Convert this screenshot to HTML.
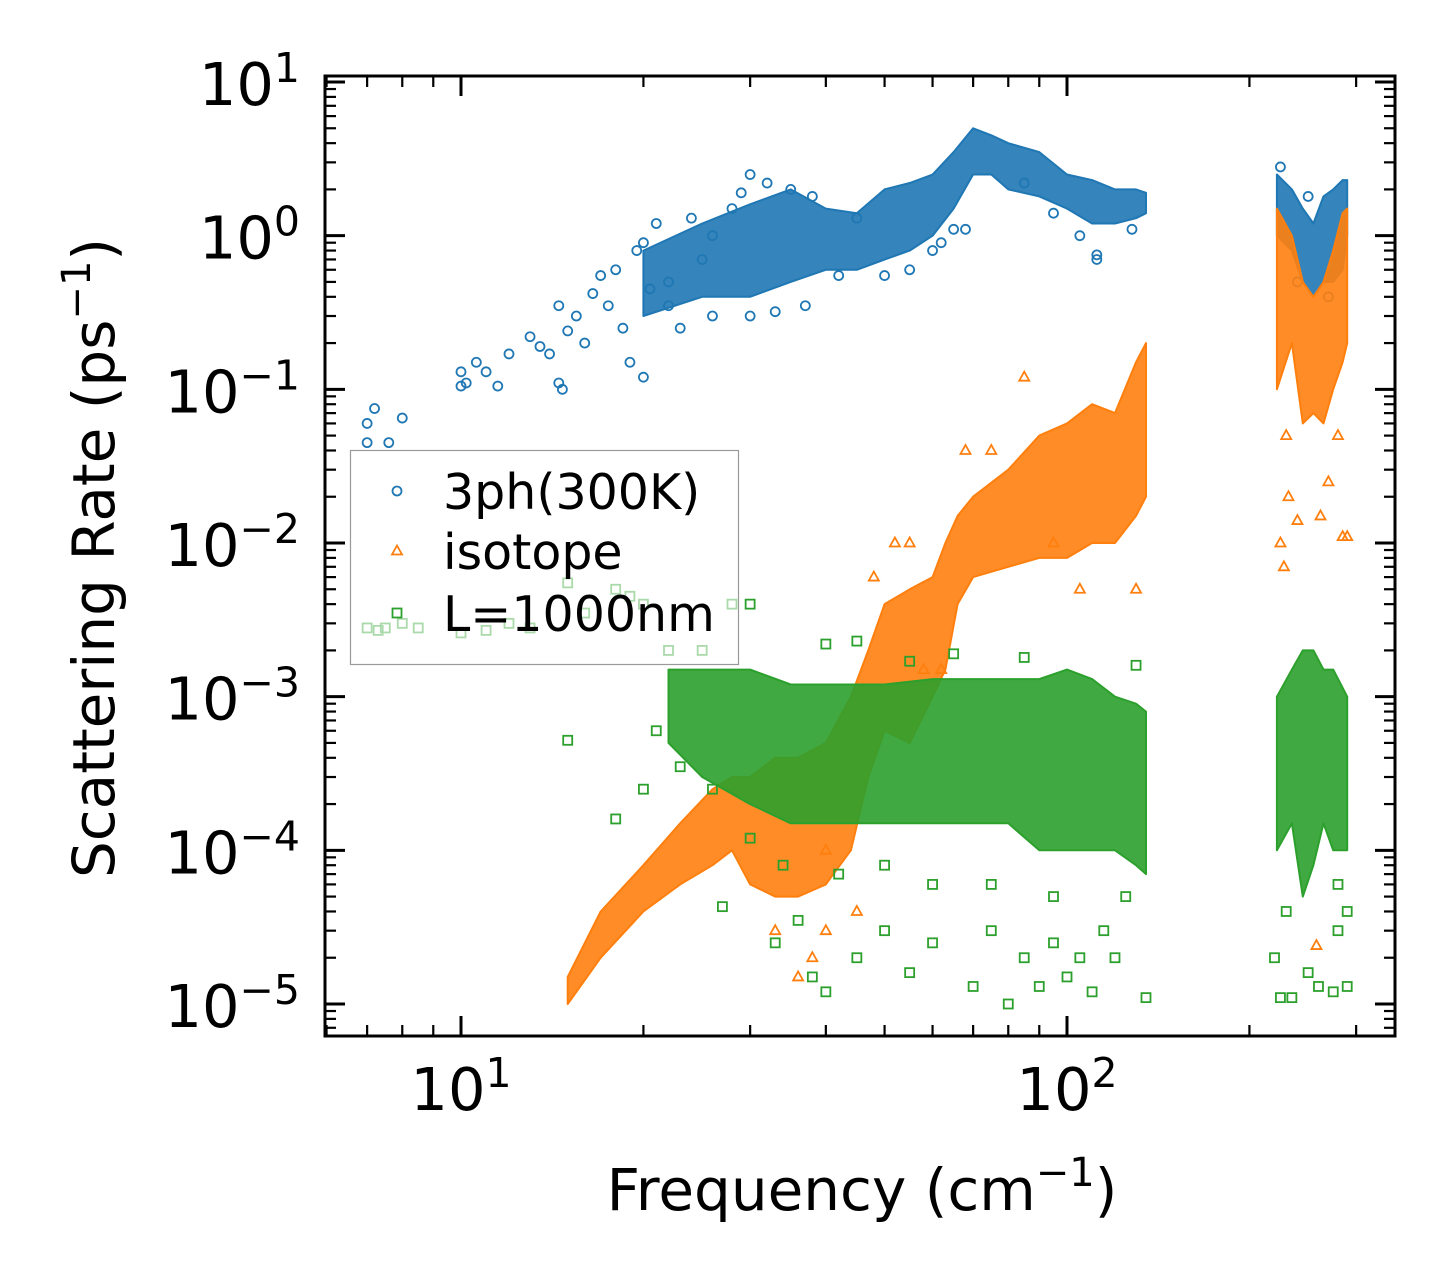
<!DOCTYPE html>
<html><head><meta charset="utf-8"><style>
html,body{margin:0;padding:0;background:#fff;}
svg{display:block;font-family:"DejaVu Sans","Liberation Sans",sans-serif;}
</style></head><body>
<svg id="chart" width="1455" height="1285" viewBox="0 0 1455 1285" xmlns="http://www.w3.org/2000/svg">
<rect width="1455" height="1285" fill="#fff"/>
<g id="data"></g>
<g id="axes"></g>
</svg>
<script>
// ---- data (estimated from the figure) ----
const xTickValues = [10, 100];
const yTickExps = [1, 0, -1, -2, -3, -4, -5];
// dense regions: [freq, low, high]
const bandBlue = [[20,0.3,0.8],[25,0.4,1.2],[30,0.4,1.6],[35,0.5,2.0],[40,0.6,1.5],[45,0.6,1.4],[50,0.7,2.0],[55,0.8,2.2],[60,1.0,2.5],[65,1.5,3.5],[70,2.5,5],[75,2.5,4.5],[80,2,4],[90,1.8,3.5],[100,1.5,2.5],[110,1.2,2.3],[120,1.2,2.0],[130,1.3,2.0],[135,1.4,1.9]];
const bandBlueHigh = [[222,1,2.5],[235,0.8,2],[245,0.5,1.5],[255,0.4,1.2],[265,0.5,1.8],[275,0.5,2],[285,0.6,2.3],[290,1,2.3]];
const bandOrange = [[15,1e-5,1.5e-5],[17,2e-5,4e-5],[20,4e-5,8e-5],[23,6e-5,1.5e-4],[26,8e-5,2.5e-4],[28,1e-4,3e-4],[30,6e-5,3e-4],[33,5e-5,4e-4],[36,5e-5,4e-4],[40,6e-5,5e-4],[44,1e-4,1e-3],[47,3e-4,2e-3],[50,6e-4,4e-3],[55,5e-4,5e-3],[60,1e-3,6e-3],[63,1.5e-3,1e-2],[66,4e-3,1.5e-2],[70,6e-3,2e-2],[80,7e-3,3e-2],[90,8e-3,5e-2],[100,8e-3,6e-2],[110,1e-2,8e-2],[120,1e-2,7e-2],[130,1.5e-2,1.5e-1],[135,2e-2,2e-1]];
const bandOrangeHigh = [[222,0.1,1.5],[235,0.2,1],[245,0.06,0.5],[255,0.07,0.4],[265,0.06,0.5],[275,0.1,0.8],[285,0.15,1.4],[290,0.2,1.5]];
const bandGreen = [[22,5e-4,1.5e-3],[25,3e-4,1.5e-3],[30,2e-4,1.5e-3],[35,1.5e-4,1.2e-3],[40,1.5e-4,1.2e-3],[50,1.5e-4,1.2e-3],[60,1.5e-4,1.3e-3],[70,1.5e-4,1.3e-3],[80,1.5e-4,1.3e-3],[90,1e-4,1.3e-3],[100,1e-4,1.5e-3],[110,1e-4,1.3e-3],[120,1e-4,1e-3],[130,8e-5,9e-4],[135,7e-5,8e-4]];
const bandGreenHigh = [[222,1e-4,1e-3],[235,1.5e-4,1.5e-3],[245,5e-5,2e-3],[255,8e-5,2e-3],[265,1.5e-4,1.5e-3],[275,1e-4,1.5e-3],[290,1e-4,1e-3]];
// scattered points: [freq, rate]
const ptsBlue = [[7,0.06],[7,0.045],[7.2,0.075],[7.6,0.045],[8,0.065],[10,0.13],[10,0.105],[10.2,0.11],[10.6,0.15],[11,0.13],[11.5,0.105],[12,0.17],[13,0.22],[13.5,0.19],[14,0.17],[14.5,0.11],[14.7,0.1],[14.5,0.35],[15,0.24],[15.5,0.3],[16,0.2],[16.5,0.42],[17,0.55],[17.5,0.35],[18,0.6],[18.5,0.25],[19,0.15],[19.5,0.8],[20,0.12],[20,0.9],[20.5,0.45],[21,1.2],[22,0.5],[23,0.25],[24,1.3],[25,0.7],[26,1.0],[28,1.5],[29,1.9],[30,2.5],[32,2.2],[35,2.0],[38,1.8],[45,1.3],[55,0.6],[62,0.9],[65,1.1],[68,1.1],[112,0.7],[112,0.75],[225,2.8],[250,1.8],[22,0.35],[26,0.3],[30,0.3],[33,0.32],[37,0.35],[42,0.55],[50,0.55],[60,0.8],[85,2.2],[95,1.4],[105,1.0],[128,1.1],[240,0.5],[270,0.4]];
const ptsOrange = [[225,0.01],[228,0.007],[232,0.02],[240,0.014],[262,0.015],[270,0.025],[285,0.011],[290,0.011],[258,2.4e-5],[36,1.5e-5],[38,2e-5],[40,3e-5],[45,4e-5],[58,1.5e-3],[68,4e-2],[75,4e-2],[55,1e-2],[62,1.5e-3],[48,6e-3],[52,1e-2],[85,1.2e-1],[95,1e-2],[105,5e-3],[130,5e-3],[230,0.05],[280,0.05],[40,1e-4],[33,3e-5]];
const ptsGreen = [[15,5.2e-4],[18,1.6e-4],[20,2.5e-4],[21,6e-4],[27,4.3e-5],[33,2.5e-5],[36,3.5e-5],[38,1.5e-5],[40,1.2e-5],[45,2e-5],[50,3e-5],[55,1.6e-5],[60,2.5e-5],[70,1.3e-5],[75,3e-5],[80,1e-5],[85,2e-5],[90,1.3e-5],[95,2.5e-5],[100,1.5e-5],[105,2e-5],[110,1.2e-5],[115,3e-5],[120,2e-5],[135,1.1e-5],[220,2e-5],[225,1.1e-5],[235,1.1e-5],[250,1.6e-5],[260,1.3e-5],[275,1.2e-5],[280,3e-5],[290,1.3e-5],[290,4e-5],[40,2.2e-3],[45,2.3e-3],[55,1.7e-3],[65,1.9e-3],[85,1.8e-3],[130,1.6e-3],[23,3.5e-4],[26,2.5e-4],[30,1.2e-4],[34,8e-5],[42,7e-5],[50,8e-5],[60,6e-5],[75,6e-5],[95,5e-5],[125,5e-5],[230,4e-5],[280,6e-5]];
const ptsGreenLight = [[7,2.8e-3],[7.3,2.7e-3],[7.5,2.8e-3],[8,3e-3],[8.5,2.8e-3],[10,2.6e-3],[11,2.7e-3],[12,3e-3],[13,2.8e-3],[15,5.5e-3],[16,3.5e-3],[18,5e-3],[19,4.5e-3],[20,4e-3],[22,2e-3],[25,2e-3],[28,4e-3],[30,4e-3]];

// ---- axes functions ----
const L=325,R=1395,T=76,B=1036;
const xMinLog=Math.log10(10)-136/606, xMaxLog=2+328/606;
const yMaxLog=1+6/153.6, yMinLog=-5-32/153.6;
const X=v=>L+(Math.log10(v)-xMinLog)/(xMaxLog-xMinLog)*(R-L);
const Y=v=>B-(Math.log10(v)-yMinLog)/(yMaxLog-yMinLog)*(B-T);
const NS="http://www.w3.org/2000/svg";
const dataG=document.getElementById('data'), axG=document.getElementById('axes');
function mk(tag,parent){const e=document.createElementNS(NS,tag);parent.appendChild(e);return e;}

const blue="#1f77b4",orange="#ff7f0e",green="#2ca02c";
function band(arr,color,name){
  const top=arr.map(d=>X(d[0]).toFixed(1)+','+Y(d[2]).toFixed(1));
  const bot=arr.slice().reverse().map(d=>X(d[0]).toFixed(1)+','+Y(d[1]).toFixed(1));
  const p=mk('polygon',dataG);
  
  
  p.setAttribute('points',top.concat(bot).join(' '));
  p.setAttribute('fill',color);p.setAttribute('fill-opacity','0.9');
  p.setAttribute('stroke',color);p.setAttribute('stroke-width','2');p.setAttribute('stroke-linejoin','round');
}
function marker(kind,x,y,color,opacity,name){
  let e;
  if(kind==='o'){e=mk('circle',dataG);e.setAttribute('cx',x);e.setAttribute('cy',y);e.setAttribute('r',4.5);}
  else if(kind==='^'){e=mk('polygon',dataG);e.setAttribute('points',`${x},${y-5.5} ${x-5},${y+3.5} ${x+5},${y+3.5}`);}
  else {e=mk('rect',dataG);e.setAttribute('x',x-4.5);e.setAttribute('y',y-4.5);e.setAttribute('width',9);e.setAttribute('height',9);}
  
  
  e.setAttribute('fill','none');e.setAttribute('stroke',color);e.setAttribute('stroke-width','1.8');
  if(opacity<1)e.setAttribute('stroke-opacity',opacity);
  return e;
}
function pts(arr,kind,color,name,op){arr.forEach(d=>marker(kind,X(d[0]),Y(d[1]),color,op||1,name));}

band(bandBlue,blue,'band-3ph');band(bandBlueHigh,blue,'band-3ph-high');pts(ptsBlue,'o',blue,'point-3ph');
band(bandOrange,orange,'band-isotope');band(bandOrangeHigh,orange,'band-isotope-high');pts(ptsOrange,'^',orange,'point-isotope');
band(bandGreen,green,'band-boundary');band(bandGreenHigh,green,'band-boundary-high');pts(ptsGreen,'s',green,'point-boundary');
pts(ptsGreenLight,'s',green,'point-boundary',1);

// legend
const lg=mk('g',axG);


const lr=mk('rect',lg);lr.setAttribute('x',350.5);lr.setAttribute('y',450.5);lr.setAttribute('width',388);lr.setAttribute('height',214);
lr.setAttribute('fill','#fff');lr.setAttribute('fill-opacity','0.6');lr.setAttribute('stroke','#999');lr.setAttribute('stroke-width','1.2');
const legendItems=[['o',blue,'3ph(300K)',497],['^',orange,'isotope',557],['s',green,'L=1000nm',619]];
legendItems.forEach(it=>{
  const m=marker(it[0],397,it[3]-6,it[1],1,'legend-marker');lg.appendChild(m);
  const t=mk('text',lg);t.textContent=it[2];
  
  
  t.setAttribute('x',443);t.setAttribute('y',it[3]+12);t.setAttribute('font-size','49');t.setAttribute('fill','#000');
});

// frame
const fr=mk('rect',axG);fr.setAttribute('x',L);fr.setAttribute('y',T);fr.setAttribute('width',R-L);fr.setAttribute('height',B-T);
fr.setAttribute('fill','none');fr.setAttribute('stroke','#000');fr.setAttribute('stroke-width','3');


function line(x1,y1,x2,y2,w){const l=mk('line',axG);l.setAttribute('x1',x1);l.setAttribute('y1',y1);l.setAttribute('x2',x2);l.setAttribute('y2',y2);l.setAttribute('stroke','#000');l.setAttribute('stroke-width',w);
  
  }
// x ticks
for(let d=0;d<=2;d++){for(let k=1;k<=9;k++){const v=k*Math.pow(10,d);const lv=Math.log10(v);if(lv<xMinLog||lv>xMaxLog)continue;const x=X(v);const len=k===1?20:11,w=k===1?3:2.2;line(x,B,x,B-len,w);line(x,T,x,T+len,w);}}
// y ticks
for(let e=-6;e<=1;e++){for(let k=1;k<=9;k++){const v=k*Math.pow(10,e);const lv=Math.log10(v);if(lv<yMinLog||lv>yMaxLog)continue;const y=Y(v);const len=k===1?20:11,w=k===1?3:2.2;line(L,y,L+len,y,w);line(R,y,R-len,y,w);}}

function powLabel(x,y,exp,anchor,name){
  const t=mk('text',axG);
  
  
  t.setAttribute('x',x);t.setAttribute('y',y);t.setAttribute('font-size','59');t.setAttribute('text-anchor',anchor);
  const a=mk('tspan',t);a.textContent='10';
  const b=mk('tspan',t);b.textContent=exp<0?'\u2212'+(-exp):String(exp);b.setAttribute('font-size','41');b.setAttribute('dy','-23');
}
xTickValues.forEach(v=>powLabel(X(v),1110,Math.round(Math.log10(v)),'middle','x-tick-label'));
yTickExps.forEach(e=>powLabel(300,Y(Math.pow(10,e))+23,e,'end','y-tick-label'));

const xl=mk('text',axG);
xl.setAttribute('x',862);xl.setAttribute('y',1210);xl.setAttribute('font-size','58');xl.setAttribute('text-anchor','middle');
xl.innerHTML='Frequency (cm<tspan font-size="40" dy="-24">\u22121</tspan><tspan dy="24">)</tspan>';
const yl=mk('text',axG);
yl.setAttribute('transform','translate(114,558) rotate(-90)');yl.setAttribute('font-size','58');yl.setAttribute('text-anchor','middle');
yl.innerHTML='Scattering Rate (ps<tspan font-size="40" dy="-24">\u22121</tspan><tspan dy="24">)</tspan>';
</script>
</body></html>
